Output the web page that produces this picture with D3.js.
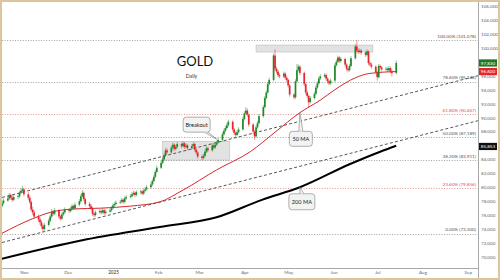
<!DOCTYPE html>
<html>
<head>
<meta charset="utf-8">
<script src="https://cdn.jsdelivr.net/npm/d3@7"></script>
<style>
   body { margin: 0; background: #fff; }
   svg { display: block; font-family: Lato, "Open Sans", sans-serif; }
</style>
</head>
<body>
<div id="chart"></div>
<script>
// prices in thousands, one candle per weekday starting Thu 17 Oct 2024
var firstOpen = 77.3
var closes = [
   77.7, 78.1,
   78.4, 78.9, 78.5, 78.2, 78.6,
   78.7, 79.2, 79.5, 79.7, 79.0,
   78.5, 77.9, 76.8, 76.4, 75.8,
   75.4, 75.0, 74.4, 74.0, 74.6,
   75.2, 75.8, 76.5, 76.2, 76.7,
   75.8, 75.5, 76.1, 76.4, 76.8,
   76.6, 76.9, 77.3, 77.0, 77.5,
   78.0, 78.7, 79.2, 78.3, 77.6,
   77.3, 77.0, 76.2, 76.0, 76.4,
   76.6, 76.4, 76.7, 76.3, 76.5,
   76.7, 77.0, 77.4, 77.6, 77.8,
   77.9, 78.2, 77.9, 78.4, 78.6,
   78.7, 79.0, 79.2, 78.9, 79.3,
   79.4, 79.1, 79.5, 79.7, 80.0,
   80.4, 80.9, 81.5, 82.2, 82.8,
   83.5, 84.0, 84.6, 85.3, 85.0,
   85.7, 86.1, 85.5, 85.8, 86.2,
   85.9, 86.3, 85.8, 86.0, 85.6,
   85.9, 86.2, 85.4, 85.0, 84.4,
   84.2, 84.5, 85.1, 85.6, 85.3,
   86.0, 85.7, 86.1, 86.4, 86.8,
   87.6, 88.1, 88.5, 88.9, 89.4,
   88.3, 87.8, 87.5, 87.9, 88.3,
   89.8, 90.6, 91.0, 90.4, 89.0,
   88.0, 87.3, 88.6, 89.2, 90.2,
   91.5, 92.8, 93.6, 94.8, 95.4,
   98.9, 97.0, 96.6, 96.1, 95.9,
   96.3, 95.7, 95.4, 94.6, 93.3,
   92.9, 95.2, 96.8, 97.3, 96.4,
   94.8, 93.6, 93.1, 92.2, 92.8,
   93.4, 94.3, 94.9, 95.6, 95.9,
   96.1, 95.6, 95.2, 94.9, 95.3,
   97.5, 98.0, 98.6, 98.1, 98.4,
   97.6, 97.0, 96.8, 97.4, 98.5,
   100.2, 99.6, 99.4, 99.6, 99.3,
   99.0, 99.5, 97.8, 97.6, 97.3,
   96.5, 95.8, 97.4, 97.2, 96.9,
   97.0, 96.8, 97.1, 96.6, 96.4,
   97.83
]
var highs = [
   78.0, 78.4,
   78.7, 79.2, 79.1, 78.8, 78.9,
   79.0, 79.5, 79.9, 80.2, 79.9,
   79.3, 78.8, 78.1, 77.2, 76.7,
   76.1, 75.8, 75.3, 74.7, 74.9,
   75.5, 76.1, 76.9, 76.7, 77.0,
   76.9, 76.0, 76.4, 76.7, 77.1,
   77.0, 77.2, 77.6, 77.5, 77.8,
   78.3, 79.0, 79.6, 79.4, 78.5,
   77.9, 77.6, 77.2, 76.5, 76.7,
   76.9, 76.8, 77.0, 76.9, 76.8,
   77.0, 77.3, 77.7, 77.9, 78.1,
   78.2, 78.5, 78.4, 78.7, 78.9,
   79.0, 79.3, 79.5, 79.4, 79.6,
   79.6, 79.6, 79.8, 80.0, 80.3,
   80.7, 81.2, 81.8, 82.5, 83.1,
   83.8, 84.3, 84.9, 85.6, 85.6,
   86.0, 86.4, 86.3, 86.1, 86.5,
   86.4, 86.6, 86.5, 86.3, 86.2,
   86.2, 86.5, 86.4, 85.6, 85.2,
   84.7, 84.8, 85.4, 85.9, 85.8,
   86.3, 86.2, 86.4, 86.7, 87.1,
   87.9, 88.4, 88.8, 89.2, 89.7,
   89.6, 88.5, 88.0, 88.2, 88.6,
   90.1, 90.9, 91.5, 91.3, 90.6,
   89.2, 88.2, 88.9, 89.5, 90.5,
   91.8, 93.1, 93.9, 95.1, 95.7,
   99.2, 99.8, 97.3, 96.9, 96.4,
   96.6, 96.5, 96.0, 95.6, 94.8,
   93.5, 95.5, 97.7, 97.6, 97.5,
   96.6, 95.0, 93.9, 93.3, 93.1,
   93.7, 94.6, 95.2, 95.9, 96.2,
   96.4, 96.3, 95.8, 95.4, 95.6,
   97.8, 98.3, 98.9, 98.8, 98.7,
   98.6, 97.8, 97.2, 97.7, 98.8,
   100.5, 101.1, 99.9, 99.9, 99.8,
   99.5, 99.8, 99.6, 98.1, 97.9,
   97.5, 96.7, 97.7, 97.6, 97.4,
   97.3, 97.2, 97.4, 97.3, 96.9,
   98.2
]
var lows = [
   77.1, 77.5,
   77.9, 78.2, 78.2, 77.9, 78.0,
   78.3, 78.5, 79.0, 79.3, 78.7,
   78.2, 77.6, 76.5, 76.0, 75.5,
   75.0, 74.6, 74.0, 73.6, 73.8,
   74.4, 75.0, 75.6, 75.9, 76.0,
   75.5, 75.2, 75.3, 75.9, 76.2,
   76.3, 76.4, 76.7, 76.8, 76.8,
   77.3, 77.8, 78.5, 78.0, 77.3,
   77.0, 76.7, 75.9, 75.7, 75.8,
   76.2, 76.1, 76.2, 76.0, 76.1,
   76.3, 76.5, 76.8, 77.2, 77.4,
   77.6, 77.7, 77.6, 77.7, 78.2,
   78.4, 78.5, 78.8, 78.6, 78.7,
   79.0, 78.9, 78.9, 79.3, 79.5,
   79.8, 80.2, 80.7, 81.3, 82.0,
   82.6, 83.3, 83.8, 84.4, 84.7,
   84.8, 85.4, 85.2, 85.3, 85.6,
   85.6, 85.7, 85.5, 85.6, 85.3,
   85.4, 85.7, 85.1, 84.7, 84.1,
   83.9, 84.0, 84.3, 84.9, 85.0,
   85.1, 85.4, 85.5, 85.9, 86.2,
   86.6, 87.4, 87.9, 88.3, 88.7,
   88.0, 87.5, 87.2, 87.3, 87.7,
   88.1, 89.6, 90.4, 90.1, 88.7,
   87.7, 86.8, 87.1, 88.4, 89.0,
   90.0, 91.3, 92.6, 93.4, 94.6,
   95.2, 96.7, 96.3, 95.8, 95.6,
   95.7, 95.4, 95.1, 94.3, 93.0,
   92.6, 92.7, 95.0, 96.6, 96.1,
   94.5, 93.3, 92.8, 91.4, 92.0,
   92.6, 93.2, 94.1, 94.7, 95.4,
   95.7, 95.3, 94.9, 94.6, 94.7,
   95.1, 97.3, 97.8, 97.8, 97.9,
   97.3, 96.7, 96.5, 96.6, 97.2,
   98.3, 99.3, 99.1, 99.2, 99.0,
   98.7, 98.8, 97.5, 97.3, 97.0,
   96.2, 95.3, 95.6, 96.9, 96.6,
   96.7, 96.5, 96.6, 96.3, 95.9,
   96.2
]

// moving averages
var ma50Dates = ["2024-10-17","2024-11-07","2024-11-19","2024-12-06","2024-12-23","2025-01-13","2025-02-02",
   "2025-02-18","2025-03-13","2025-04-05","2025-04-22","2025-05-09","2025-05-23","2025-06-02","2025-06-16","2025-06-25","2025-07-14"]
var ma50Values = [73.4, 75.5, 76.4, 76.9, 77.0, 77.3, 77.9, 79.6, 82.5, 85.1, 87.9, 90.7, 92.5, 94.0, 95.7, 96.3, 96.6]
var ma200Dates = ["2024-10-16","2024-12-11","2025-02-02","2025-03-13","2025-04-13","2025-05-09","2025-06-12","2025-07-03","2025-07-14"]
var ma200Values = [69.7, 72.4, 74.3, 75.7, 78.2, 80.0, 83.3, 85.1, 85.95]

// rising channel
var channelDates = ["2024-10-17","2025-09-08"]
var channelUpper = [78.54, 96.0]
var channelLower = [72.08, 89.55]

// fibonacci retracement
var fibValues = [101.078, 95.144, 90.467, 87.189, 83.911, 79.856, 73.3]
var fibLabels = ["100.00% (101,078)","78.60% (95,144)","61.80% (90,467)","50.00% (87,189)","38.20% (83,911)","23.60% (79,856)","0.00% (73,300)"]

// shaded ranges
var rangeDates = [["2025-02-04","2025-03-22"], ["2025-04-09","2025-06-28"]]
var rangePrices = [[83.9, 86.6], [99.4, 100.4]]

var priceTicks = [70,72,74,76,78,80,82,84,86,88,90,92,94,96,98,100,102,104,106]
var monthTicks = ["2024-11-01","2024-12-01","2025-01-01","2025-02-01","2025-03-01","2025-04-01","2025-05-01","2025-06-01","2025-07-01","2025-08-01","2025-09-01"]
var monthLabels = ["Nov","Dec","2025","Feb","Mar","Apr","May","Jun","Jul","Aug","Sep"]

var lastPrice = 97.83
var lastMa50 = 96.6
var lastMa200 = 85.853

var width = 500
var height = 280
var plotLeft = 2
var plotRight = 478
var plotTop = 2
var plotBottom = 268

var parseDate = d3.timeParse("%Y-%m-%d")
var fmt = d3.format(",")

function tradingDays(startStr, n) {
   let out = []
   let d = parseDate(startStr)
   while(out.length < n) {
      if(d.getDay() != 0 && d.getDay() != 6) {
         out.push(new Date(d))
      }
      d.setDate(d.getDate() + 1)
   }
   return out
}

function drawChart() {
   let days = tradingDays("2024-10-17", closes.length)
   let candles = days.map(function(d, i) {
      return {
         date: d,
         open: i == 0 ? firstOpen : closes[i-1],
         close: closes[i],
         high: highs[i],
         low: lows[i]
      }
   })

   let x = d3.scaleTime()
      .domain([parseDate("2024-10-17"), parseDate("2025-09-08")])
      .range([plotLeft, plotRight])
   let y = d3.scaleLinear().domain([70, 106]).range([257, 6])

   let svg = d3.select("#chart").append("svg")
      .attr("width", width)
      .attr("height", height)

   svg.append("defs").append("clipPath").attr("id", "plotClip")
      .append("rect")
         .attr("x", plotLeft).attr("y", plotTop)
         .attr("width", plotRight - plotLeft).attr("height", plotBottom - plotTop)

   let plot = svg.append("g").attr("clip-path", "url(#plotClip)")

   // shaded ranges
   plot.selectAll("rect.range").data(rangeDates).enter().append("rect")
      .attr("class", "range")
      .attr("x", function(d) { return x(parseDate(d[0])) })
      .attr("width", function(d) { return x(parseDate(d[1])) - x(parseDate(d[0])) })
      .attr("y", function(d, i) { return y(rangePrices[i][1]) })
      .attr("height", function(d, i) { return y(rangePrices[i][0]) - y(rangePrices[i][1]) })
      .attr("fill", "#d8d8d8")
      .attr("fill-opacity", 0.75)
      .attr("stroke", "#bdbdbd")
      .attr("stroke-width", 0.6)

   // fibonacci levels
   let fib = plot.selectAll("g.fib").data(fibValues).enter().append("g").attr("class", "fib")
   fib.append("line")
      .attr("x1", plotLeft).attr("x2", plotRight)
      .attr("y1", function(d) { return Math.round(y(d)) + 0.5 })
      .attr("y2", function(d) { return Math.round(y(d)) + 0.5 })
      .attr("stroke", function(d, i) { return isRedLevel(i) ? "#e0787a" : "#8a8a8a" })
      .attr("stroke-width", 0.8)
      .attr("stroke-dasharray", "1,1.6")
   fib.append("text")
      .attr("x", plotRight - 2)
      .attr("y", function(d) { return y(d) - 2.5 })
      .attr("text-anchor", "end")
      .attr("font-size", 4.6)
      .attr("fill", function(d, i) { return isRedLevel(i) ? "#d9534f" : "#555" })
      .text(function(d, i) { return fibLabels[i] })

   // channel
   let chan = d3.line()
      .x(function(d) { return x(parseDate(d[0])) })
      .y(function(d) { return y(d[1]) })
   ;[channelUpper, channelLower].forEach(function(vals) {
      plot.append("path")
         .datum(channelDates.map(function(d, i) { return [d, vals[i]] }))
         .attr("d", chan)
         .attr("fill", "none")
         .attr("stroke", "#444")
         .attr("stroke-width", 0.9)
         .attr("stroke-dasharray", "3,2.2")
   })

   // moving averages
   let maLine = d3.line()
      .curve(d3.curveMonotoneX)
      .x(function(d) { return x(parseDate(d[0])) })
      .y(function(d) { return y(d[1]) })
   plot.append("path")
      .datum(ma200Dates.map(function(d, i) { return [d, ma200Values[i]] }))
      .attr("d", maLine)
      .attr("fill", "none")
      .attr("stroke", "#000")
      .attr("stroke-width", 2)
   plot.append("path")
      .datum(ma50Dates.map(function(d, i) { return [d, ma50Values[i]] }))
      .attr("d", maLine)
      .attr("fill", "none")
      .attr("stroke", "#d8262c")
      .attr("stroke-width", 1)

   // candles
   let c = plot.selectAll("g.candle").data(candles).enter().append("g").attr("class", "candle")
   c.append("line")
      .attr("x1", function(d) { return x(d.date) })
      .attr("x2", function(d) { return x(d.date) })
      .attr("y1", function(d) { return y(d.high) })
      .attr("y2", function(d) { return y(d.low) })
      .attr("stroke", candleColor)
      .attr("stroke-width", 0.5)
   c.append("rect")
      .attr("x", function(d) { return x(d.date) - 0.85 })
      .attr("width", 1.7)
      .attr("y", function(d) { return y(Math.max(d.open, d.close)) })
      .attr("height", function(d) { return Math.max(0.5, Math.abs(y(d.open) - y(d.close))) })
      .attr("fill", candleColor)

   // callouts
   callout(svg, x(parseDate("2025-03-13")), y(86.9), -20, -14.5, 27, 15, "Breakout")
   callout(svg, x(parseDate("2025-05-09")), y(90.75), 1, 26.5, 23, 15, "50 MA")
   callout(svg, x(parseDate("2025-05-09")), y(80.0), 2, 14.5, 26, 16, "200 MA")

   // title
   svg.append("text")
      .attr("x", 195).attr("y", 65.5)
      .attr("text-anchor", "middle")
      .attr("font-size", 13)
      .attr("fill", "#111")
      .text("GOLD")
   svg.append("text")
      .attr("x", 191.5).attr("y", 78)
      .attr("text-anchor", "middle")
      .attr("font-size", 5.2)
      .attr("fill", "#333")
      .text("Daily")

   // axes
   svg.append("rect")
      .attr("x", plotRight).attr("y", 0)
      .attr("width", width - plotRight).attr("height", height)
      .attr("fill", "#fff")
   svg.append("rect")
      .attr("x", 0).attr("y", plotBottom)
      .attr("width", width).attr("height", height - plotBottom)
      .attr("fill", "#fff")

   let yAxis = svg.append("g")
      .attr("transform", "translate(" + plotRight + ",0)")
      .call(d3.axisRight(y).tickValues(priceTicks).tickSize(0).tickPadding(3)
         .tickFormat(function(d) { return fmt(d * 1000) }))
   yAxis.select(".domain").remove()
   yAxis.selectAll("text")
      .attr("font-family", "Lato, sans-serif")
      .attr("font-size", 4.6)
      .attr("fill", "#666")

   let xAxis = svg.append("g")
      .attr("transform", "translate(0," + plotBottom + ")")
      .call(d3.axisBottom(x).tickValues(monthTicks.map(parseDate)).tickSize(0).tickPadding(3)
         .tickFormat(function(d, i) { return monthLabels[i] }))
   xAxis.select(".domain").remove()
   xAxis.selectAll("text")
      .attr("font-family", "Lato, sans-serif")
      .attr("font-size", 4.6)
      .attr("fill", "#666")
      .attr("font-weight", function(d, i) { return monthLabels[i] == "2025" ? "bold" : null })

   svg.append("line")
      .attr("x1", plotRight + 0.5).attr("x2", plotRight + 0.5)
      .attr("y1", 0).attr("y2", height)
      .attr("stroke", "#a8a8a8").attr("stroke-width", 1)
   svg.append("line")
      .attr("x1", 0).attr("x2", plotRight)
      .attr("y1", plotBottom + 0.5).attr("y2", plotBottom + 0.5)
      .attr("stroke", "#a8a8a8").attr("stroke-width", 1)

   // last value tags
   priceTag(svg, y(lastPrice), "#1f7a1f", lastPrice)
   priceTag(svg, y(lastMa50), "#e3262b", lastMa50)
   priceTag(svg, y(lastMa200), "#111", lastMa200)

   // frame
   svg.append("rect")
      .attr("x", 1).attr("y", 1)
      .attr("width", width - 2).attr("height", height - 2)
      .attr("fill", "none")
      .attr("stroke", "#dcc6a0")
      .attr("stroke-width", 2)
}

function isRedLevel(i) {
   return fibLabels[i].indexOf("61.80") == 0 || fibLabels[i].indexOf("23.60") == 0
}

function candleColor(d) {
   return d.close >= d.open ? "#1e8a2a" : "#e2262c"
}

function priceTag(svg, py, color, value) {
   svg.append("rect")
      .attr("x", plotRight + 1).attr("y", py - 3.6)
      .attr("width", 18).attr("height", 7.2)
      .attr("fill", color)
   svg.append("text")
      .attr("x", plotRight + 10).attr("y", py)
      .attr("dy", "0.35em")
      .attr("text-anchor", "middle")
      .attr("font-size", 4.6)
      .attr("fill", "#fff")
      .text(fmt(Math.round(value * 1000)))
}

// rounded label box with a small pointer to (tx, ty)
function callout(svg, tx, ty, dx, dy, w, h, label) {
   let cx = tx + dx
   let cy = ty + dy
   let left = cx - w / 2
   let top = cy - h / 2
   let baseY = dy < 0 ? top + h : top
   let baseX = dy < 0 ? left + w - 6 : cx - 2
   let g = svg.append("g")
   g.append("path")
      .attr("d", "M" + baseX + "," + baseY + "L" + tx + "," + ty + "L" + (baseX + 4) + "," + baseY + "Z")
      .attr("fill", "#f3f3f3")
      .attr("stroke", "#7d7d7d")
      .attr("stroke-width", 0.6)
   g.append("rect")
      .attr("x", left).attr("y", top)
      .attr("width", w).attr("height", h)
      .attr("rx", 3)
      .attr("fill", "#f3f3f3")
      .attr("stroke", "#7d7d7d")
      .attr("stroke-width", 0.6)
   g.append("line")
      .attr("x1", baseX + 0.4).attr("x2", baseX + 3.6)
      .attr("y1", baseY).attr("y2", baseY)
      .attr("stroke", "#f3f3f3")
      .attr("stroke-width", 0.9)
   g.append("text")
      .attr("x", cx).attr("y", cy)
      .attr("dy", "0.35em")
      .attr("text-anchor", "middle")
      .attr("font-size", 5.6)
      .attr("fill", "#222")
      .text(label)
}

drawChart()
</script>
</body>
</html>
